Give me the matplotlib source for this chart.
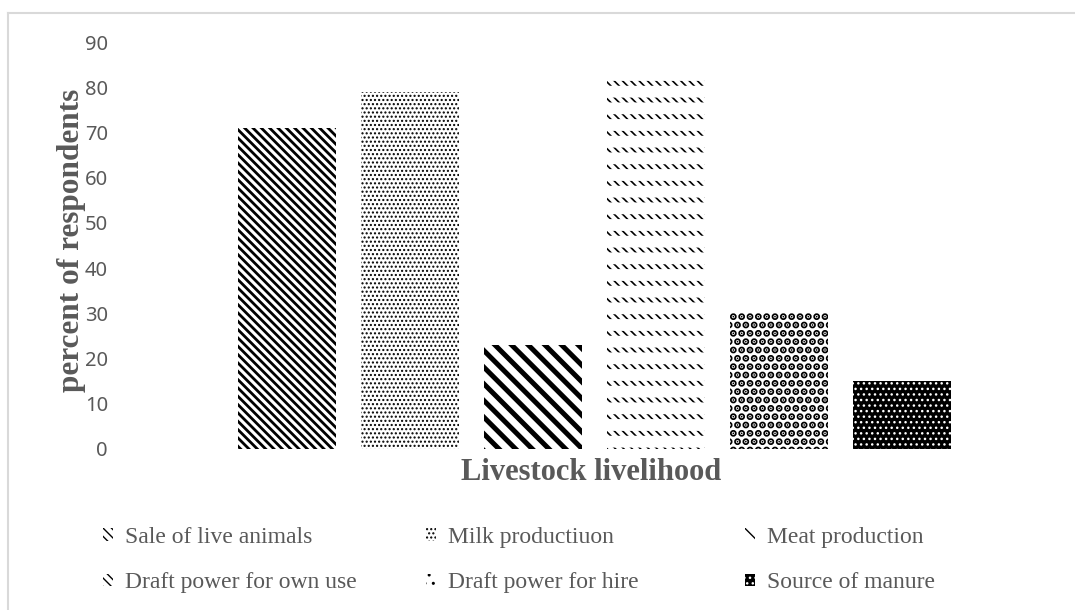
import matplotlib
matplotlib.use('Agg')
import matplotlib.pyplot as plt
from matplotlib.patches import Patch
from matplotlib.lines import Line2D
import numpy as np

# data
categories = ['Sale of live animals', 'Milk productiuon', 'Meat production',
              'Draft power for own use', 'Draft power for hire', 'Source of manure']
percents = [71, 79, 23, 82, 30, 15]
yticks = [0, 10, 20, 30, 40, 50, 60, 70, 80, 90]

# pattern per bar: (facecolor, hatch colour, hatch, hatch linewidth)
styles = [
    ('white', 'black', '\\' * 4, 2.0),
    ('white', 'black', '.' * 4, 1.0),
    ('white', 'black', '\\' * 2, 3.6),
    ('white', 'black', '\\' * 4, 1.2),
    ('white', 'black', '.' * 2, 3.6),
    ('black', 'white', '.' * 3, 1.0),
]

GRAY = '#595959'
W, H = 1075, 610

fig = plt.figure(figsize=(W / 100, H / 100), dpi=100)
fig.patch.set_facecolor('white')

# plot area in pixels
left_px, right_px, top_px, bottom_px = 115, 1050, 42, 449
ax = fig.add_axes([left_px / W, 1 - bottom_px / H,
                   (right_px - left_px) / W, (bottom_px - top_px) / H])

first_px, step_px, bar_px = 287, 123, 98
x = np.arange(len(categories))


def make_bar(xi, val, fc, hc, hatch, hlw):
    with plt.rc_context({'hatch.linewidth': hlw}):
        b = ax.bar(xi, val, width=bar_px / step_px, facecolor=fc,
                   edgecolor=hc, linewidth=0, hatch=hatch)
    for p in b:
        if hasattr(p, 'set_hatch_linewidth'):
            p.set_hatch_linewidth(hlw)
    return b


for i, (val, st) in enumerate(zip(percents, styles)):
    make_bar(x[i], val, *st)

# white bands cut the dense stripes of "Draft power for own use" into short dashes
make_bar(x[3], percents[3], 'none', 'white', '-', 8.5)

ax.set_xlim((left_px - first_px) / step_px, (right_px - first_px) / step_px)
ax.set_ylim(0, 90)
ax.set_yticks(yticks)
ax.set_xticks([])
ax.tick_params(axis='y', length=0, pad=5, labelsize=14.5, labelcolor=GRAY)
for lab in ax.get_yticklabels():
    lab.set_fontfamily('Noto Sans')
for s in ax.spines.values():
    s.set_visible(False)

# axis titles
fig.text(591 / W, 1 - 472 / H, 'Livestock livelihood', ha='center', va='center',
         fontsize=22, fontweight='bold', color=GRAY, family='Liberation Serif')
fig.text(72 / W, 1 - 240 / H, 'percent of respondents', ha='center', va='center',
         rotation=90, fontsize=22.5, fontweight='bold', color=GRAY,
         family='Liberation Serif')

# legend, 3 columns x 2 rows
col_px = [103, 426, 745]
for c in range(3):
    handles = []
    for r in range(2):
        k = r * 3 + c
        fc, hc, hatch, hlw = styles[k]
        with plt.rc_context({'hatch.linewidth': hlw}):
            h = Patch(facecolor=fc, edgecolor=hc, linewidth=0, hatch=hatch,
                      label=categories[k])
        if hasattr(h, 'set_hatch_linewidth'):
            h.set_hatch_linewidth(hlw)
        handles.append(h)
    fig.legend(handles=handles, loc='upper left',
               bbox_to_anchor=(col_px[c] / W, 1 - 527 / H),
               frameon=False, handlelength=0.42, handleheight=0.42,
               handletextpad=0.5, labelspacing=1.02, borderpad=0, borderaxespad=0,
               prop={'family': 'Liberation Serif', 'size': 17}, labelcolor=GRAY)

# chart frame (only top and left edge visible)
fig.add_artist(Line2D([8 / W, 8 / W], [0, 1 - 13 / H], color='#d9d9d9', lw=1.5,
                      transform=fig.transFigure))
fig.add_artist(Line2D([8 / W, 1], [1 - 13 / H, 1 - 13 / H], color='#d9d9d9', lw=1.5,
                      transform=fig.transFigure))

fig.savefig('out.png', dpi=100, facecolor='white')
